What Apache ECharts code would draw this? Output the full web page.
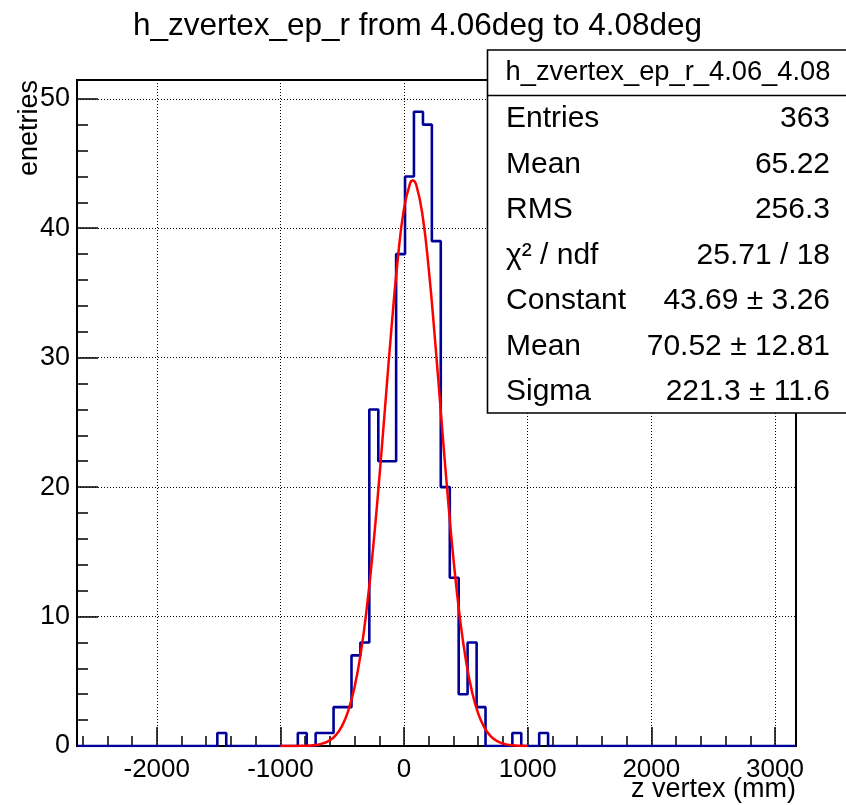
<!DOCTYPE html>
<html>
<head>
<meta charset="utf-8">
<script src="https://cdn.jsdelivr.net/npm/echarts@6/dist/echarts.min.js"></script>
<style>
  html, body { margin: 0; padding: 0; background: #fff; }
  #chart { width: 846px; height: 805px; }
</style>
</head>
<body>
<div id="chart"></div>
<script>
// ---- data ----
const titleText = 'h_zvertex_ep_r from 4.06deg to 4.08deg';
const xTitle = 'z vertex (mm)';
const yTitle = 'enetries';

// axis ranges
const xRange = [-2645, 3170];
const yRange = [0, 51.45];

// histogram bin edges (mm) and counts in each bin (zero outside this region)
const binEdges = [-1510,-1438,-1365,-1293,-1221,-1149,-1076,-1004,-932,-859,-787,-715,-642,-570,-498,-425,-353,-281,-208,-136,-64,8,80,153,225,297,370,442,514,587,659,731,804,876,948,1021,1093,1165];
const binCounts = [1,0,0,0,0,0,0,0,0,1,0,1,1,3,3,7,8,26,22,22,38,44,49,48,39,20,13,4,8,3,0,0,0,1,0,0,1];

const fitX = [-1000,-950,-900,-850,-800,-750,-700,-650,-600,-550,-500,-450,-400,-350,-300,-250,-200,-150,-100,-50,0,50,70.5,100,150,200,250,300,350,400,450,500,550,600,650,700,750,800,850,900,950,1000];
const fitY = [0.000,0.001,0.003,0.008,0.019,0.045,0.102,0.218,0.443,0.857,1.575,2.749,4.558,7.181,10.76,15.31,20.70,26.59,32.47,37.67,41.53,43.50,43.69,43.30,40.96,36.82,31.44,25.52,19.68,14.42,10.04,6.644,4.179,2.496,1.417,0.765,0.392,0.191,0.088,0.039,0.016,0.006];

// stats box
const statHeader = 'h_zvertex_ep_r_4.06_4.08';
const statLabels = ['Entries','Mean','RMS','χ² / ndf','Constant','Mean','Sigma'];
const statValues = ['363','65.22','256.3','25.71 / 18','43.69 ± 3.26','70.52 ± 12.81','221.3 ± 11.6'];

// ---- build ----
const FONT = '"Liberation Sans", Arial, Helvetica, sans-serif';

const histData = [[xRange[0], 0], [binEdges[0], 0]];
for (let i = 0; i < binCounts.length; i++) {
  histData.push([binEdges[i], binCounts[i]]);
  histData.push([binEdges[i + 1], binCounts[i]]);
}
histData.push([binEdges[binEdges.length - 1], 0]);
histData.push([xRange[1], 0]);

const fitData = fitX.map((x, i) => [x, fitY[i]]);

function txt(x, y, text, size, align, extra) {
  return Object.assign({ type: 'text', x: x, y: y, z: 102,
    style: { text: text, font: size + 'px ' + FONT, fill: '#000', align: align, verticalAlign: 'middle', textAlign: align, textVerticalAlign: 'middle' } }, extra || {});
}

const graphics = [];
graphics.push(txt(417.5, 26, titleText, 31.5, 'center'));
graphics.push(txt(30, 80, yTitle, 27, 'right', { rotation: Math.PI / 2 }));
graphics.push(txt(796, 790, xTitle, 27, 'right'));
// stats box
graphics.push({ type: 'rect', z: 100, shape: { x: 487.5, y: 50, width: 370, height: 363 },
  style: { fill: '#fff', stroke: '#000', lineWidth: 1.6 } });
graphics.push({ type: 'line', z: 101, shape: { x1: 487.5, y1: 95.5, x2: 846, y2: 95.5 },
  style: { stroke: '#000', lineWidth: 1.6 } });
graphics.push(txt(668, 72, statHeader, 27.3, 'center'));
const rowY0 = 119, rowStep = 45.5;
statLabels.forEach((lab, i) => {
  const y = rowY0 + i * rowStep;
  graphics.push(txt(506, y, lab, 30, 'left'));
  graphics.push(txt(830, y, statValues[i], 30, 'right'));
});

const chart = echarts.init(document.getElementById('chart'), null, { renderer: 'canvas' });
chart.setOption({
  animation: false,
  backgroundColor: '#fff',
  grid: { left: 77, right: 50, top: 80, bottom: 59, show: true, borderColor: '#000', borderWidth: 2, backgroundColor: 'transparent' },
  xAxis: {
    type: 'value', min: xRange[0], max: xRange[1], minInterval: 1000, maxInterval: 1000,
    axisLine: { show: true, onZero: false, lineStyle: { color: '#000', width: 2 } },
    axisTick: { show: true, inside: true, length: 19, lineStyle: { color: '#000', width: 1.5 } },
    minorTick: { show: true, splitNumber: 5, length: 10, lineStyle: { color: '#000', width: 1.5 } },
    axisLabel: { show: true, color: '#000', fontSize: 26, fontFamily: FONT, margin: 11,
      showMinLabel: false, showMaxLabel: false,
      formatter: v => (Math.abs(v % 1000) < 1e-6 ? String(v) : '') },
    splitLine: { show: true, lineStyle: { color: '#000', width: 1, type: [1, 2] } },
    minorSplitLine: { show: false }
  },
  yAxis: {
    type: 'value', min: yRange[0], max: yRange[1], interval: 10,
    axisLine: { show: true, onZero: false, lineStyle: { color: '#000', width: 2 } },
    axisTick: { show: true, inside: true, length: 21, lineStyle: { color: '#000', width: 1.5 } },
    minorTick: { show: true, splitNumber: 5, length: 11, lineStyle: { color: '#000', width: 1.5 } },
    axisLabel: { show: true, color: '#000', fontSize: 27, fontFamily: FONT, margin: 7,
      showMinLabel: true, showMaxLabel: false,
      formatter: v => (Math.abs(v % 10) < 1e-6 ? String(v) : '') },
    splitLine: { show: true, lineStyle: { color: '#000', width: 1, type: [1, 2] } }
  },
  series: [
    { type: 'line', data: histData, showSymbol: false, symbol: 'none', z: 3,
      lineStyle: { color: '#000099', width: 2.6 }, itemStyle: { color: '#000099' } },
    { type: 'line', data: fitData, showSymbol: false, symbol: 'none', z: 4, smooth: 0.5,
      lineStyle: { color: '#ff0000', width: 2.5 }, itemStyle: { color: '#ff0000' } }
  ],
  graphic: graphics
});
</script>
</body>
</html>
